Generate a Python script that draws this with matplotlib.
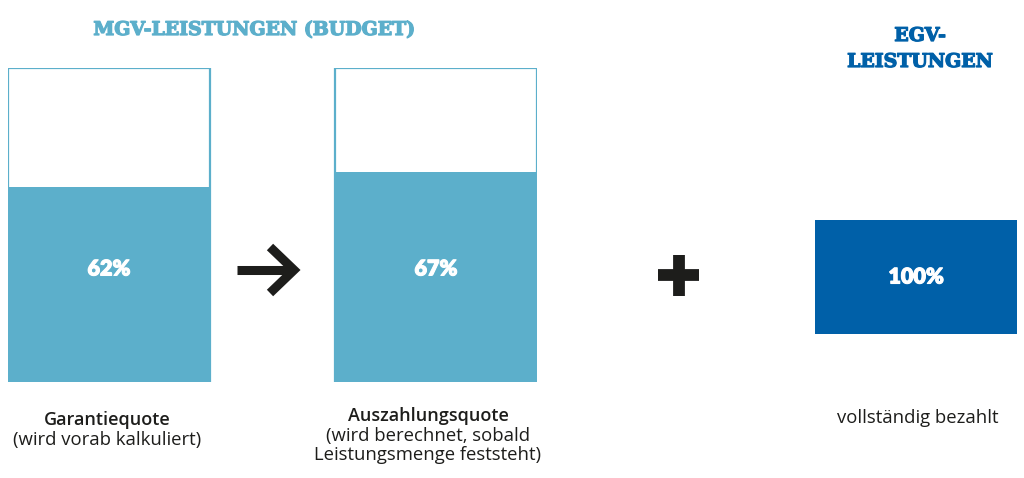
import matplotlib
matplotlib.use("Agg")
import matplotlib.pyplot as plt
import matplotlib.patheffects as pe

# data
mgv_labels = ["Garantiequote", "Auszahlungsquote"]
mgv_subtitles = [["(wird vorab kalkuliert)"],
                 ["(wird berechnet, sobald", "Leistungsmenge feststeht)"]]
mgv_values = [62, 67]
egv_label = "vollständig bezahlt"
egv_value = [100]

light_blue = "#5cafcb"
dark_blue = "#0060a8"
black = "#1d1d1b"
slab = ["DejaVu Serif"]
sans = ["Open Sans", "DejaVu Sans"]
num_font = ["Lato", "DejaVu Sans"]

W, H = 1024, 478
fig = plt.figure(figsize=(W / 100, H / 100), dpi=100)


def px_axes(x0, y0, x1, y1):
    # axes from pixel box (top-left origin)
    return fig.add_axes([x0 / W, 1 - y1 / H, (x1 - x0) / W, (y1 - y0) / H])


num_fx = [pe.withStroke(linewidth=0.8, foreground="white")]

# MGV boxes
ax = px_axes(8, 68, 537, 382)
w = 202 / 327
pos = list(range(len(mgv_values)))
ax.bar(pos, [100] * len(pos), width=w, color="white", edgecolor=light_blue, linewidth=1.6)
bars = ax.bar(pos, mgv_values, width=w, color=light_blue, linewidth=0)
for b, v in zip(bars, mgv_values):
    ax.text(b.get_x() + b.get_width() / 2, 36, f"{v}%", ha="center", va="center",
            color="white", fontsize=15.5, fontweight="heavy", family=num_font,
            path_effects=num_fx)
ax.set_xlim(-w / 2, 1 + w / 2)
ax.set_ylim(0, 100)
ax.axis("off")

# EGV box
ax2 = px_axes(815, 220, 1017, 334)
ax2.bar([0], egv_value, width=1, color=dark_blue, linewidth=0)
ax2.text(0, egv_value[0] / 2, f"{egv_value[0]}%", ha="center", va="center",
         color="white", fontsize=15.5, fontweight="heavy", family=num_font,
         path_effects=num_fx)
ax2.set_xlim(-0.5, 0.5)
ax2.set_ylim(0, 100)
ax2.axis("off")

# overlay for titles, symbols and captions
ov = fig.add_axes([0, 0, 1, 1], zorder=-1)
ov.set_xlim(0, W)
ov.set_ylim(H, 0)
ov.axis("off")

heavy_lb = [pe.withStroke(linewidth=0.9, foreground=light_blue)]
heavy_db = [pe.withStroke(linewidth=0.9, foreground=dark_blue)]
ov.text(254, 30, "MGV-LEISTUNGEN (BUDGET)", ha="center", va="center",
        color=light_blue, fontsize=13.6, fontweight="bold", family=slab,
        path_effects=heavy_lb)
ov.text(920, 36, "EGV-", ha="center", va="center",
        color=dark_blue, fontsize=13.6, fontweight="bold", family=slab,
        path_effects=heavy_db)
ov.text(920, 62, "LEISTUNGEN", ha="center", va="center",
        color=dark_blue, fontsize=13.6, fontweight="bold", family=slab,
        path_effects=heavy_db)

# arrow
ov.plot([237, 292], [270, 270], color=black, lw=6.5, solid_capstyle="butt")
ov.plot([270, 294, 270], [247, 270, 293], color=black, lw=6.5,
        solid_joinstyle="miter", solid_capstyle="butt")
# plus
ov.plot([658, 699], [275, 275], color=black, lw=8.5, solid_capstyle="butt")
ov.plot([678.5, 678.5], [255, 296], color=black, lw=8.5, solid_capstyle="butt")

# captions (one text per line, placed on baselines)
centers = [107, 428]
first_baselines = [425, 421]
for cx, y0, lab, sub in zip(centers, first_baselines, mgv_labels, mgv_subtitles):
    ov.text(cx, y0, lab, ha="center", va="baseline", color=black,
            fontsize=13, fontweight="semibold", family=sans)
    for i, line in enumerate(sub):
        ov.text(cx, y0 + 20 + 19.5 * i, line, ha="center", va="baseline",
                color=black, fontsize=13.3, family=sans)
ov.text(918, 423, egv_label, ha="center", va="baseline", color=black,
        fontsize=13.3, family=sans)

fig.savefig("out.png", dpi=100, facecolor="white")
